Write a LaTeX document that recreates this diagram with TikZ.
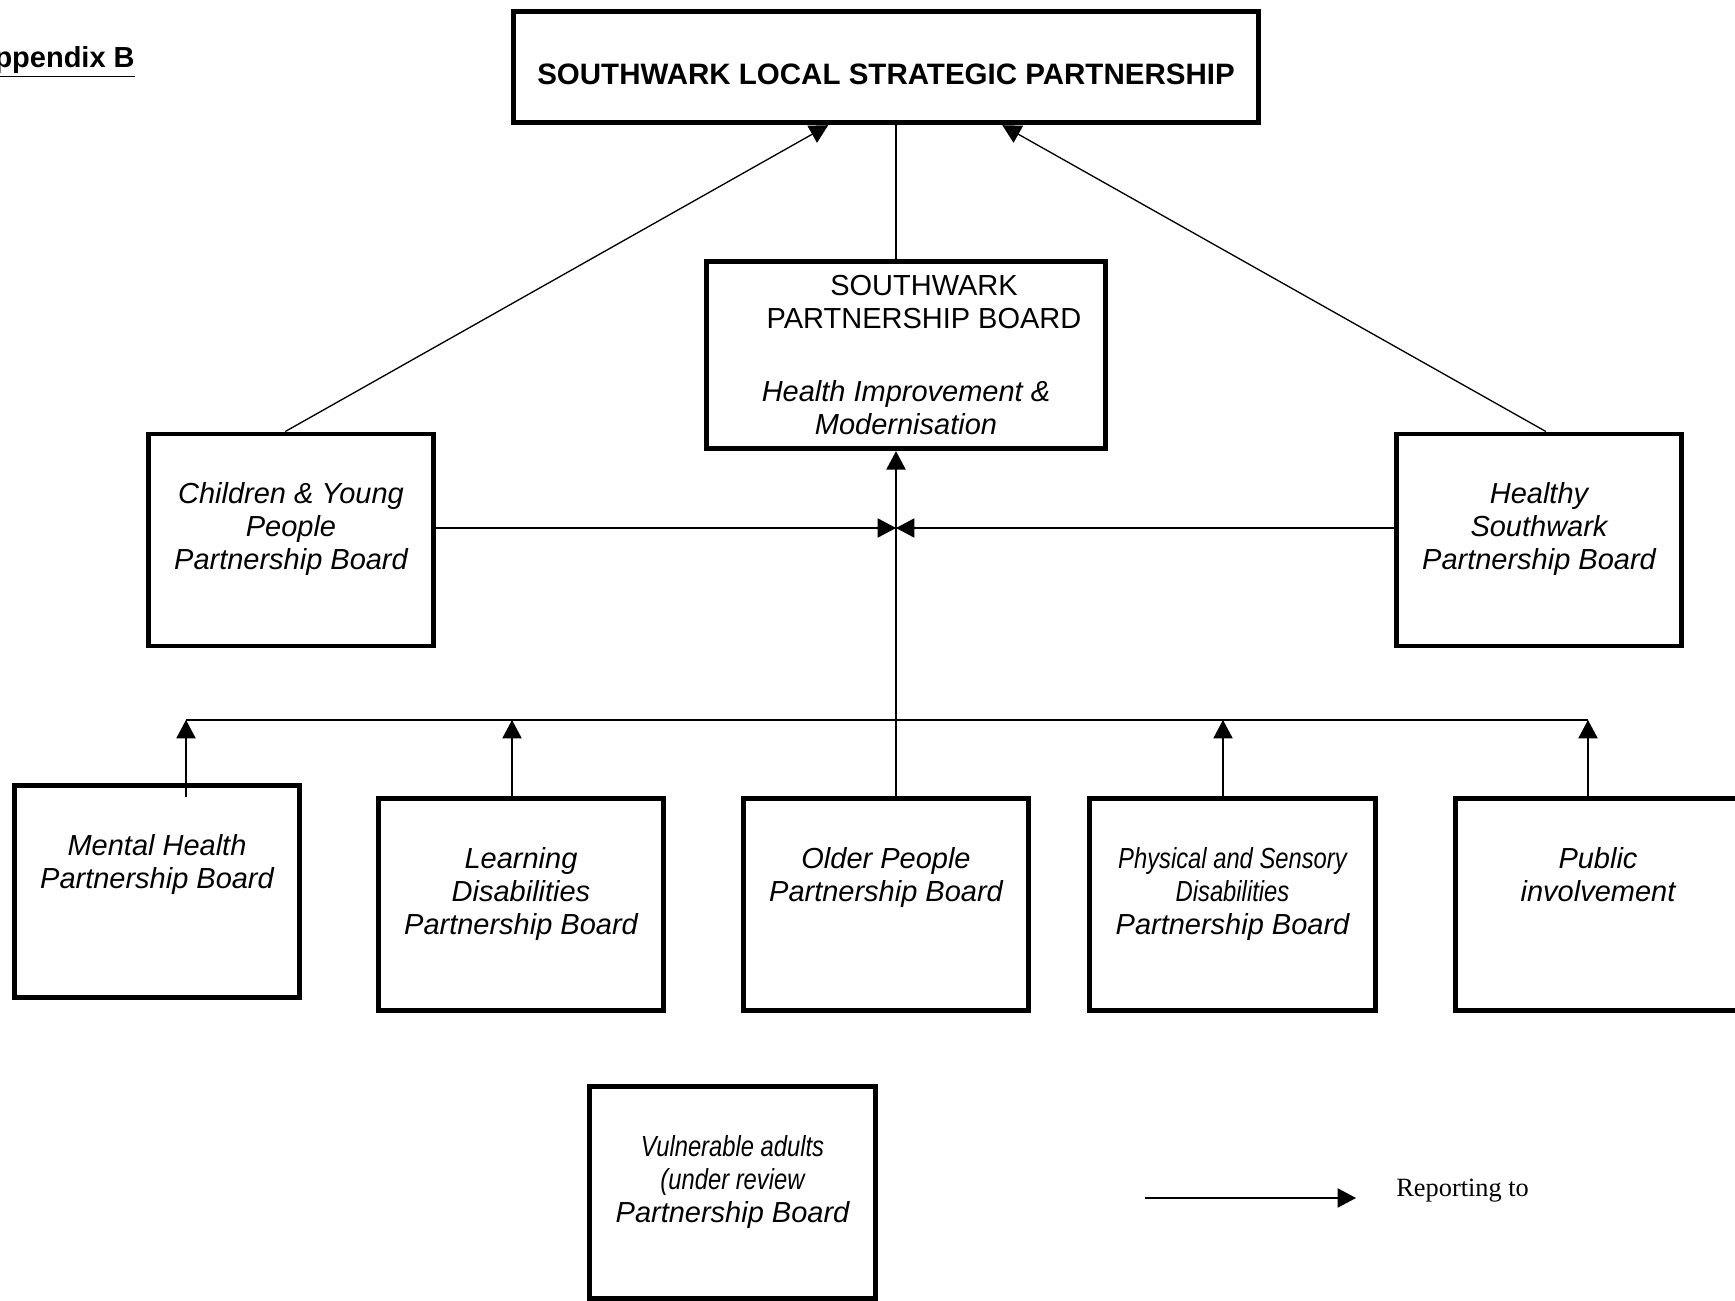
\documentclass[tikz,border=0pt]{standalone}
\usepackage{fontspec}
\setmainfont{Liberation Sans}
\newfontfamily\narrowfont[FakeStretch=0.82]{Liberation Sans}
\newfontfamily\keyfont{Liberation Serif}
\usetikzlibrary{positioning,calc,arrows.meta}

\newcommand{\boardsize}{\fontsize{16.5}{18.8}\selectfont}

\tikzset{
  board/.style={draw,line width=2.8pt,minimum width=5.71cm,minimum height=4.24cm,inner sep=0pt},
  boardtext/.style={align=center,inner sep=0pt,font=\boardsize\itshape},
  link/.style={line width=.75pt},
  report/.style={link,-{Triangle[length=10.5pt,width=11pt]}}
}

\begin{document}
\begin{tikzpicture}[x=0.02cm,y=-0.02cm]
\useasboundingbox (0,0) rectangle (1735,1301);

% heading
\node[anchor=base east,inner sep=0pt,font=\boardsize\bfseries] (appx) at (135,68) {\underline{Appendix B}};

% top level
\node[draw,line width=2.8pt,minimum width=14.91cm,minimum height=2.23cm] (lsp) at (886,67) {};
\node[inner sep=0pt,font=\fontsize{16.8}{19}\selectfont\bfseries,below=1.1cm of lsp.north] (lsptext) {SOUTHWARK LOCAL STRATEGIC PARTNERSHIP};

\node[draw,line width=2.8pt,minimum width=7.99cm,minimum height=3.75cm] (spb) at (906,355) {};
\node[boardtext,font=\boardsize\upshape,below=0.33cm of spb.north,xshift=0.36cm] (spbname) {SOUTHWARK\\PARTNERSHIP BOARD};
\node[boardtext,below=2.43cm of spb.north] (spbremit) {Health Improvement \&\\Modernisation};

% partnership boards
\node[board] (cyp) at (291,540) {};
\node[boardtext,below=1.02cm of cyp.north] (cyptext) {Children \& Young\\People\\Partnership Board};
\node[board] (hsw) at (1539,540) {};
\node[boardtext,below=1.02cm of hsw.north] (hswtext) {Healthy\\Southwark\\Partnership Board};

\node[board] (mh) at (157,891.5) {};
\node[boardtext,below=1.02cm of mh.north] (mhtext) {Mental Health\\Partnership Board};
\node[board] (ld) at (521,904.5) {};
\node[boardtext,below=1.02cm of ld.north] (ldtext) {Learning\\Disabilities\\Partnership Board};
\node[board] (op) at (886,904.5) {};
\node[boardtext,below=1.02cm of op.north] (optext) {Older People\\Partnership Board};
\node[board] (psd) at (1232.5,904.5) {};
\node[boardtext,below=1.02cm of psd.north] (psdtext) {\narrowfont Physical and Sensory\\\narrowfont Disabilities\\Partnership Board};
\node[board] (pub) at (1598,904.5) {};
\node[boardtext,below=1.02cm of pub.north] (pubtext) {Public\\involvement};

\node[board] (va) at (732.5,1192.5) {};
\node[boardtext,below=1.02cm of va.north] (vatext) {\narrowfont Vulnerable adults\\\narrowfont (under review\\Partnership Board};

% junctions
\coordinate (hub) at (896,528);
\coordinate (mhbus) at (186,720);
\coordinate (ldbus) at (512,720);
\coordinate (psdbus) at (1223,720);
\coordinate (pubbus) at (1588,720);

% reporting lines
\draw[report] ($(cyp.north west)!.48!(cyp.north east)$) -- ($(lsp.south west)!.423!(lsp.south east)$);
\draw[report] ($(hsw.north west)!.524!(hsw.north east)$) -- ($(lsp.south west)!.655!(lsp.south east)$);
\draw[link] (lsp.south -| hub) -- (spb.north -| hub);
\draw[report] (cyp.east |- hub) -- (hub);
\draw[report] (hsw.west |- hub) -- (hub);
\draw[report] (op.north -| hub) -- (spb.south -| hub);

\draw[link] (mhbus) -- (pubbus);
\draw[report] (mh.north -| mhbus) ++(0,14) -- (mhbus);
\draw[report] (ld.north -| ldbus) -- (ldbus);
\draw[report] (psd.north -| psdbus) -- (psdbus);
\draw[report] (pub.north -| pubbus) -- (pubbus);

% key
\coordinate (keyfrom) at (1145,1198);
\coordinate (keyto) at (1356,1198);
\draw[report] (keyfrom) -- (keyto);
\node[anchor=base west,inner sep=0pt,font=\keyfont\fontsize{15}{18}\selectfont] (keytext) at (1396,1196) {Reporting to};
\end{tikzpicture}
\end{document}
